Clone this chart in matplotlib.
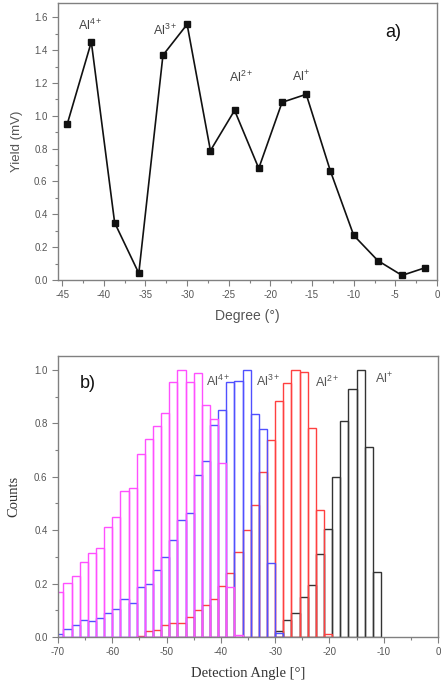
import numpy as np
import matplotlib
matplotlib.use("Agg")
import matplotlib.pyplot as plt
from matplotlib.ticker import MultipleLocator

plt.rcParams['font.family'] = ['Liberation Sans', 'DejaVu Sans']
plt.rcParams['mathtext.default'] = 'regular'
plt.rcParams['axes.unicode_minus'] = False

# ---------------- Panel a data ----------------
degree = [-44.4, -41.5, -38.7, -35.8, -32.9, -30.0, -27.2, -24.3,
          -21.4, -18.6, -15.7, -12.8, -10.0, -7.1, -4.2, -1.4]
yield_mv = [0.948, 1.45, 0.349, 0.041, 1.369, 1.557, 0.788, 1.033,
            0.680, 1.082, 1.131, 0.664, 0.272, 0.118, 0.028, 0.075]
labels_a = ['Al$^{4+}$', 'Al$^{3+}$', 'Al$^{2+}$', 'Al$^{+}$']
labels_a_x = [-41.6, -32.6, -23.5, -16.3]
labels_a_y = [1.55, 1.52, 1.235, 1.24]

# ---------------- Panel b data ----------------
bin_start = -70.5
bin_width = 1.5
# counts per bin index (bin k spans bin_start + k*bin_width)
al4_start = 0
al4 = [0.168, 0.203, 0.228, 0.279, 0.315, 0.333, 0.411, 0.449, 0.546, 0.557,
       0.684, 0.741, 0.789, 0.837, 0.953, 1.0, 0.956, 0.988, 0.868, 0.815,
       0.652, 0.187, 0.009]
al3_start = 0
al3 = [0.011, 0.029, 0.044, 0.062, 0.059, 0.071, 0.090, 0.105, 0.142, 0.127,
       0.186, 0.198, 0.251, 0.299, 0.363, 0.438, 0.465, 0.608, 0.658, 0.795,
       0.848, 0.954, 0.960, 1.0, 0.836, 0.780, 0.278, 0.015]
al2_start = 10
al2 = [0.004, 0.021, 0.027, 0.046, 0.052, 0.052, 0.075, 0.101, 0.120, 0.143,
       0.191, 0.241, 0.318, 0.400, 0.493, 0.616, 0.738, 0.882, 0.951, 1.0,
       0.991, 0.782, 0.475, 0.010]
al1_start = 27
al1 = [0.024, 0.065, 0.090, 0.150, 0.195, 0.310, 0.404, 0.600, 0.810, 0.930,
       1.0, 0.710, 0.245]
labels_b = ['Al$^{4+}$', 'Al$^{3+}$', 'Al$^{2+}$', 'Al$^{+}$']
labels_b_x = [-40.4, -31.2, -20.4, -10.0]
labels_b_y = [0.956, 0.956, 0.953, 0.965]

gray = '#555555'
spine_gray = '#808080'

fig = plt.figure(figsize=(4.41, 6.83), dpi=100)

# ---------------- Panel a ----------------
ax1 = fig.add_axes([58/441, 1-280/683, 379/441, 277/683])
ax1.plot(degree, yield_mv, '-', color='#111111', lw=1.2,
         marker='s', markersize=4, markerfacecolor='#111111', markeredgecolor='#111111')
ax1.set_xlim(-45.5, 0)
ax1.set_ylim(0, 1.687)
ax1.xaxis.set_major_locator(MultipleLocator(5))
ax1.xaxis.set_minor_locator(MultipleLocator(2.5))
ax1.yaxis.set_major_locator(MultipleLocator(0.2))
ax1.yaxis.set_minor_locator(MultipleLocator(0.1))
ax1.yaxis.set_major_formatter(matplotlib.ticker.FormatStrFormatter('%.1f'))
ax1.set_xlabel('Degree (°)', fontsize=10, color=gray, labelpad=6)
ax1.set_ylabel('Yield (mV)', fontsize=9.5, color=gray, labelpad=8)
for lx, ly, lt in zip(labels_a_x, labels_a_y, labels_a):
    ax1.text(lx, ly, lt, fontsize=9, color='#444444', ha='center', va='center')
ax1.text(-5.3, 1.51, 'a)', fontsize=13, color='#111111', ha='center', va='center')

# ---------------- Panel b ----------------
ax2 = fig.add_axes([58/441, 1-637/683, 380/441, 281/683])

def draw_bars(ax, start, vals, color):
    lefts = [bin_start + (start + i) * bin_width for i in range(len(vals))]
    ax.bar(lefts, vals, width=bin_width, align='edge', fill=False,
           edgecolor=color, linewidth=1.0)

draw_bars(ax2, al1_start, al1, '#333333')
draw_bars(ax2, al2_start, al2, '#ff4040')
draw_bars(ax2, al3_start, al3, '#5050ff')
draw_bars(ax2, al4_start, al4, '#ff50ff')

ax2.set_xlim(-70, 0)
ax2.set_ylim(0, 1.052)
ax2.xaxis.set_major_locator(MultipleLocator(10))
ax2.xaxis.set_minor_locator(MultipleLocator(5))
ax2.yaxis.set_major_locator(MultipleLocator(0.2))
ax2.yaxis.set_minor_locator(MultipleLocator(0.1))
ax2.yaxis.set_major_formatter(matplotlib.ticker.FormatStrFormatter('%.1f'))
ax2.set_xlabel('Detection Angle [°]', fontsize=10.5, color='#333333',
               family=['Liberation Serif', 'DejaVu Serif'], labelpad=7)
ax2.set_ylabel('Counts', fontsize=10.5, color='#333333',
               family=['Liberation Serif', 'DejaVu Serif'], labelpad=10)
for lx, ly, lt in zip(labels_b_x, labels_b_y, labels_b):
    ax2.text(lx, ly, lt, fontsize=9, color='#555555', ha='center', va='center')
ax2.text(-64.5, 0.95, 'b)', fontsize=13, color='#111111', ha='center', va='center')

for ax in (ax1, ax2):
    for s in ax.spines.values():
        s.set_color(spine_gray)
        s.set_linewidth(1.0)
    ax.tick_params(which='major', direction='out', length=4, width=0.8,
                   color=spine_gray, labelcolor=gray, labelsize=7)
    ax.tick_params(which='minor', direction='out', length=2, width=0.8,
                   color=spine_gray)
    ax.tick_params(top=False, right=False, which='both')

fig.savefig('out.png', dpi=100)
